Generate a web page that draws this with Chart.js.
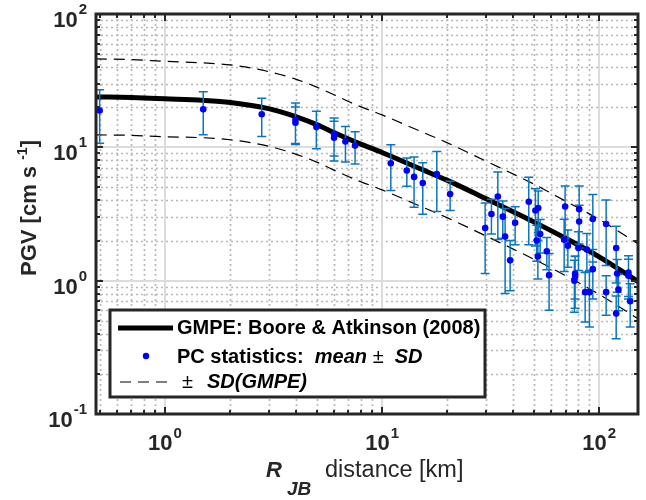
<!DOCTYPE html>
<html><head><meta charset="utf-8">
<style>html,body{margin:0;padding:0;background:#fff;}canvas{display:block;}</style>
<script src="https://cdn.jsdelivr.net/npm/chart.js@4.4.1/dist/chart.umd.min.js"></script>
</head><body>
<canvas id="c" width="646" height="500"></canvas>
<script>
// ---- GMPE curve (Boore & Atkinson 2008) ----
const gmpeDistance = [0.48, 0.7, 1, 1.5, 2, 3, 4, 5, 6, 7.5, 10, 15, 20, 30, 50, 70, 100, 152];
const gmpeMedian   = [23.9, 23.6, 23.1, 22.5, 21.7, 19.5, 17.0, 14.8, 12.9, 11.0, 9.15, 6.9, 5.65, 4.13, 2.76, 2.08, 1.51, 0.98];
const gmpePlusSD   = [46, 45.5, 44.2, 43, 41.5, 37, 32.5, 28.3, 24.8, 21.0, 17.5, 13.2, 10.8, 7.9, 5.3, 3.95, 2.88, 1.88];
const gmpeMinusSD  = [12.4, 12.3, 12.0, 11.8, 11.4, 10.2, 8.9, 7.75, 6.75, 5.75, 4.8, 3.62, 2.96, 2.17, 1.45, 1.09, 0.79, 0.515];

// ---- PC statistics: mean and SD ----
const pcDistance = [0.5, 1.5, 2.79, 3.99, 3.99, 4.98, 6.01, 6.01, 6.78, 7.51,
  10.97, 13.0, 14.04, 15.4, 17.87, 20.58, 29.84, 31.9, 34.14, 35.99,
  36.88, 38.9, 41.02, 47.4, 50.86, 52.4, 51.6, 53.5, 52.2, 57.4,
  58.8, 69.7, 69.0, 71.75, 80.9, 80.9, 80.3, 77.5, 77.5, 76.9,
  86.2, 90.2, 87.8, 93.5, 93.5, 107.7, 107.7, 119.8, 121.1, 122.7,
  119.8, 136.5, 136.5, 139];
const pcMean = [18.9, 19.3, 17.7, 16.1, 15.3, 14.2, 12.6, 11.8, 11.05, 10.3,
  7.6, 6.7, 6.0, 5.4, 6.3, 4.46, 2.48, 3.16, 4.28, 3.02,
  2.14, 1.42, 2.72, 3.91, 3.36, 3.5, 2.0, 2.24, 1.52, 1.66,
  1.10, 3.6, 2.03, 1.83, 3.44, 2.78, 1.76, 1.13, 1.07, 1.0,
  0.82, 0.82, 1.71, 2.90, 1.22, 2.66, 0.82, 1.76, 1.13, 0.856,
  0.566, 1.15, 1.09, 0.70];
const pcSD = [8.15, 6.85, 5.65, 5.4, 4.8, 4.45, 4.0, 3.9, 3.3, 2.8,
  2.85, 1.6, 2.45, 2.25, 3.0, 1.1, 1.35, 0.92, 2.24, 0.94,
  1.34, 0.58, 0.86, 2.05, 1.54, 1.2, 0.6, 0.63, 0.49, 0.45,
  0.5, 1.52, 0.86, 0.57, 1.68, 0.9, 0.57, 0.4, 0.45, 0.42,
  0.33, 0.37, 0.55, 1.52, 0.49, 1.36, 0.27, 0.8, 0.31, 0.26,
  0.2, 0.39, 0.36, 0.25];

// ---- tick labels ----
const xTickValues = [1, 10, 100];
const xTickExps = ['0', '1', '2'];
const yTickValues = [0.1, 1, 10, 100];
const yTickExps = ['-1', '0', '1', '2'];

const FONT = '"Liberation Sans", Arial, Helvetica, sans-serif';
const AX = '#262626';

function runs(ctx, list, x, y) {
  let cx = x;
  for (const r of list) {
    ctx.font = r.f;
    ctx.fillText(r.t, cx, y + (r.dy || 0));
    cx += ctx.measureText(r.t).width;
  }
  return cx;
}
function runsWidth(ctx, list) {
  let w = 0;
  for (const r of list) { ctx.font = r.f; w += ctx.measureText(r.t).width; }
  return w;
}

const axesPlugin = {
  id: 'matlabAxes',
  beforeDatasetsDraw(chart) {
    const { ctx, chartArea: a, scales: { x, y } } = chart;
    ctx.save();
    // minor grid (dotted)
    ctx.strokeStyle = '#b8b8b8';
    ctx.lineWidth = 1.7;
    ctx.setLineDash([2, 3]);
    ctx.beginPath();
    for (let e = -1; e <= 2; e++) {
      for (let m = 2; m <= 9; m++) {
        const v = m * Math.pow(10, e);
        if (v > x.min && v < x.max) {
          const p = Math.round(x.getPixelForValue(v)) + 0.5;
          ctx.moveTo(p, a.top); ctx.lineTo(p, a.bottom);
        }
        if (v > y.min && v < y.max) {
          const p = Math.round(y.getPixelForValue(v)) + 0.5;
          ctx.moveTo(a.left, p); ctx.lineTo(a.right, p);
        }
      }
    }
    ctx.stroke();
    // major grid (solid)
    ctx.setLineDash([]);
    ctx.strokeStyle = '#dcdcdc';
    ctx.lineWidth = 2;
    ctx.beginPath();
    for (const v of xTickValues) {
      const p = Math.round(x.getPixelForValue(v));
      ctx.moveTo(p, a.top); ctx.lineTo(p, a.bottom);
    }
    for (const v of yTickValues) {
      const p = Math.round(y.getPixelForValue(v));
      ctx.moveTo(a.left, p); ctx.lineTo(a.right, p);
    }
    ctx.stroke();
    ctx.restore();
  },
  beforeDatasetDraw(chart, args) {
    if (args.index !== 0) return;
    const { ctx, chartArea: a, scales: { x, y } } = chart;
    ctx.save();
    ctx.beginPath();
    ctx.rect(a.left, a.top, a.right - a.left, a.bottom - a.top);
    ctx.clip();
    ctx.strokeStyle = '#0b76c0';
    ctx.lineWidth = 1.5;
    ctx.beginPath();
    for (let i = 0; i < pcDistance.length; i++) {
      const px = x.getPixelForValue(pcDistance[i]);
      const t = y.getPixelForValue(pcMean[i] + pcSD[i]);
      const b = y.getPixelForValue(pcMean[i] - pcSD[i]);
      ctx.moveTo(px, t); ctx.lineTo(px, b);
      ctx.moveTo(px - 4.5, t); ctx.lineTo(px + 4.5, t);
      ctx.moveTo(px - 4.5, b); ctx.lineTo(px + 4.5, b);
    }
    ctx.stroke();
    ctx.restore();
  },
  afterDraw(chart) {
    const { ctx, chartArea: a, scales: { x, y } } = chart;
    ctx.save();
    // ticks (inside, all four sides)
    ctx.strokeStyle = AX;
    ctx.lineWidth = 2;
    ctx.beginPath();
    const tickX = (v, len) => {
      const p = Math.round(x.getPixelForValue(v));
      ctx.moveTo(p, a.bottom); ctx.lineTo(p, a.bottom - len);
      ctx.moveTo(p, a.top); ctx.lineTo(p, a.top + len);
    };
    const tickY = (v, len) => {
      const p = Math.round(y.getPixelForValue(v));
      ctx.moveTo(a.left, p); ctx.lineTo(a.left + len, p);
      ctx.moveTo(a.right, p); ctx.lineTo(a.right - len, p);
    };
    for (let e = -1; e <= 2; e++) {
      for (let m = 1; m <= 9; m++) {
        const v = m * Math.pow(10, e);
        if (v >= x.min && v <= x.max) tickX(v, m === 1 ? 7 : 4);
        if (v >= y.min && v <= y.max) tickY(v, m === 1 ? 7 : 4);
      }
    }
    ctx.stroke();
    // box
    ctx.lineWidth = 3;
    ctx.strokeRect(a.left, a.top, a.right - a.left, a.bottom - a.top);

    // tick labels
    ctx.fillStyle = AX;
    ctx.textBaseline = 'middle';
    ctx.textAlign = 'left';
    const bigF = 'bold 22px ' + FONT, supF = 'bold 15px ' + FONT;
    ctx.font = bigF; const baseW = ctx.measureText('10').width;
    for (let i = 0; i < yTickValues.length; i++) {
      const p = y.getPixelForValue(yTickValues[i]);
      ctx.font = supF; const ew = ctx.measureText(yTickExps[i]).width;
      const start = 87 - ew - baseW - 1;
      ctx.font = bigF; ctx.fillText('10', start, p + 7);
      ctx.font = supF; ctx.fillText(yTickExps[i], start + baseW + 1, p - 4);
    }
    for (let i = 0; i < xTickValues.length; i++) {
      const p = x.getPixelForValue(xTickValues[i]);
      ctx.font = supF; const ew = ctx.measureText(xTickExps[i]).width;
      const start = p - (baseW + ew + 1) / 2;
      ctx.font = bigF; ctx.fillText('10', start, 444);
      ctx.font = supF; ctx.fillText(xTickExps[i], start + baseW + 1, 434);
    }

    // x title
    ctx.textBaseline = 'alphabetic';
    ctx.font = 'italic bold 22px ' + FONT; ctx.fillText('R', 266, 477);
    ctx.font = 'italic bold 19px ' + FONT; ctx.fillText('JB', 287, 495);
    ctx.font = '23.5px ' + FONT; ctx.fillText('distance [km]', 325, 477);

    // y title (rotated)
    ctx.save();
    ctx.translate(36, 208);
    ctx.rotate(-Math.PI / 2);
    const yt = [
      { t: 'PGV [cm s ', f: 'bold 22px ' + FONT },
      { t: '-1', f: 'bold 14px ' + FONT, dy: -9 },
      { t: ']', f: 'bold 22px ' + FONT }
    ];
    const yw = runsWidth(ctx, yt);
    runs(ctx, yt, -yw / 2, 0);
    ctx.restore();

    // legend
    ctx.fillStyle = '#ffffff';
    ctx.fillRect(110, 310, 375, 87);
    ctx.strokeStyle = AX;
    ctx.lineWidth = 3;
    ctx.strokeRect(110, 310, 375, 87);
    // row 1
    ctx.strokeStyle = '#000';
    ctx.lineWidth = 5;
    ctx.beginPath(); ctx.moveTo(118, 328); ctx.lineTo(173, 328); ctx.stroke();
    ctx.fillStyle = '#000';
    ctx.textBaseline = 'middle';
    ctx.font = 'bold 20px ' + FONT;
    ctx.fillText('GMPE: Boore & Atkinson (2008)', 177, 328);
    // row 2
    ctx.fillStyle = '#0000ff';
    ctx.beginPath(); ctx.arc(146, 356, 3.2, 0, Math.PI * 2); ctx.fill();
    ctx.fillStyle = '#000';
    runs(ctx, [
      { t: 'PC statistics:  ', f: 'bold 20px ' + FONT },
      { t: 'mean', f: 'italic bold 20px ' + FONT },
      { t: ' \u00B1  ', f: '20px ' + FONT },
      { t: 'SD', f: 'italic bold 20px ' + FONT }
    ], 177, 357);
    // row 3
    ctx.strokeStyle = '#000';
    ctx.lineWidth = 1.2;
    ctx.setLineDash([11, 7]);
    ctx.beginPath(); ctx.moveTo(120, 382); ctx.lineTo(173, 382); ctx.stroke();
    ctx.setLineDash([]);
    ctx.font = '20px ' + FONT;
    ctx.fillText('\u00B1', 182, 382);
    ctx.font = 'italic bold 20px ' + FONT;
    ctx.fillText('SD(GMPE)', 207, 382);
    ctx.restore();
  }
};

const pts = (xs, ys) => xs.map((v, i) => ({ x: v, y: ys[i] }));

new Chart(document.getElementById('c'), {
  type: 'scatter',
  data: {
    datasets: [
      { label: 'PC statistics', data: pts(pcDistance, pcMean), showLine: false,
        pointRadius: 3.3, pointHoverRadius: 3.3, pointBackgroundColor: '#0000ff', pointBorderWidth: 0, borderColor: '#0000ff' },
      { label: 'GMPE', data: pts(gmpeDistance, gmpeMedian), showLine: true, borderColor: '#000',
        borderWidth: 5, pointRadius: 0, cubicInterpolationMode: 'monotone' },
      { label: '+SD', data: pts(gmpeDistance, gmpePlusSD), showLine: true, borderColor: '#000',
        borderWidth: 1.2, borderDash: [11, 7], pointRadius: 0, cubicInterpolationMode: 'monotone' },
      { label: '-SD', data: pts(gmpeDistance, gmpeMinusSD), showLine: true, borderColor: '#000',
        borderWidth: 1.2, borderDash: [11, 7], pointRadius: 0, cubicInterpolationMode: 'monotone' }
    ]
  },
  options: {
    responsive: false,
    animation: false,
    devicePixelRatio: 1,
    events: [],
    layout: { padding: { left: 96, right: 8, top: 14, bottom: 86 } },
    plugins: { legend: { display: false }, tooltip: { enabled: false } },
    scales: {
      x: { type: 'logarithmic', min: 0.481, max: 151, display: false },
      y: { type: 'logarithmic', min: 0.1, max: 100, display: false }
    }
  },
  plugins: [axesPlugin]
});
</script>
</body></html>
